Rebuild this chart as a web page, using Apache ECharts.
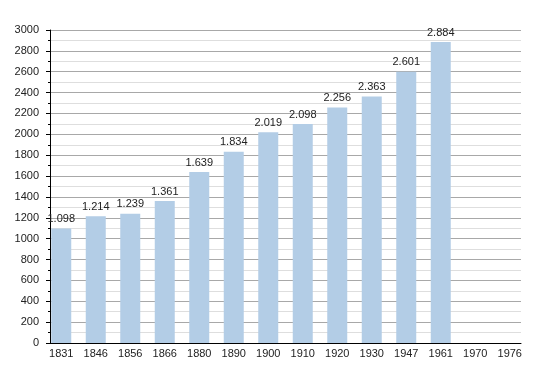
<!DOCTYPE html>
<html><head><meta charset="utf-8">
<script src="https://cdn.jsdelivr.net/npm/echarts@6/dist/echarts.min.js"></script>
<style>html,body{margin:0;padding:0;background:#fff}#c{width:550px;height:373px}</style>
</head><body><div id="c"></div>
<script>
const categories = ['1831','1846','1856','1866','1880','1890','1900','1910','1920','1930','1947','1961','1970','1976'];
const population = [1098,1214,1239,1361,1639,1834,2019,2098,2256,2363,2601,2884,null,null];
const yMin = 0, yMax = 3000, yStep = 200;

const chart = echarts.init(document.getElementById('c'), null, {renderer:'canvas'});
const font = 'Liberation Sans, Arial, sans-serif';
chart.setOption({
  animation:false,
  grid:[
    {left:50, right:29, top:30, bottom:30},
    {left:44, right:23, top:30, bottom:30}
  ],
  xAxis:[
    {gridIndex:0, type:'value', min:0, max:1, show:true,
     axisLine:{show:true, onZero:false, lineStyle:{color:'#000', width:1}},
     axisTick:{show:false}, axisLabel:{show:false}, splitLine:{show:false}},
    {gridIndex:1, type:'category', data:categories,
     axisLine:{show:false}, axisTick:{show:false},
     axisLabel:{color:'#222', fontFamily:font, fontSize:11, margin:5}}
  ],
  yAxis:[
    {gridIndex:0, type:'value', min:yMin, max:yMax, interval:yStep,
     axisLine:{show:true, lineStyle:{color:'#000', width:1}},
     axisTick:{show:true, length:4, lineStyle:{color:'#000'}},
     minorTick:{show:true, splitNumber:2, length:2, lineStyle:{color:'#000'}},
     axisLabel:{color:'#222', fontFamily:font, fontSize:11, margin:11, formatter:v => String(v)},
     splitLine:{show:true, lineStyle:{color:'#a8a8a8', width:1}},
     minorSplitLine:{show:true, lineStyle:{color:'#dedede', width:1}}},
    {gridIndex:1, type:'value', min:yMin, max:yMax, interval:yStep, show:false, splitLine:{show:false}}
  ],
  series:[{
    type:'bar', xAxisIndex:1, yAxisIndex:1, data:population, barWidth:20,
    itemStyle:{color:'#b3cde6'},
    label:{show:true, position:'top', distance:4, color:'#222', fontFamily:font, fontSize:11,
      formatter:p => String(p.value).replace(/\B(?=(\d{3})+(?!\d))/g,'.')}
  }]
});
</script></body></html>
